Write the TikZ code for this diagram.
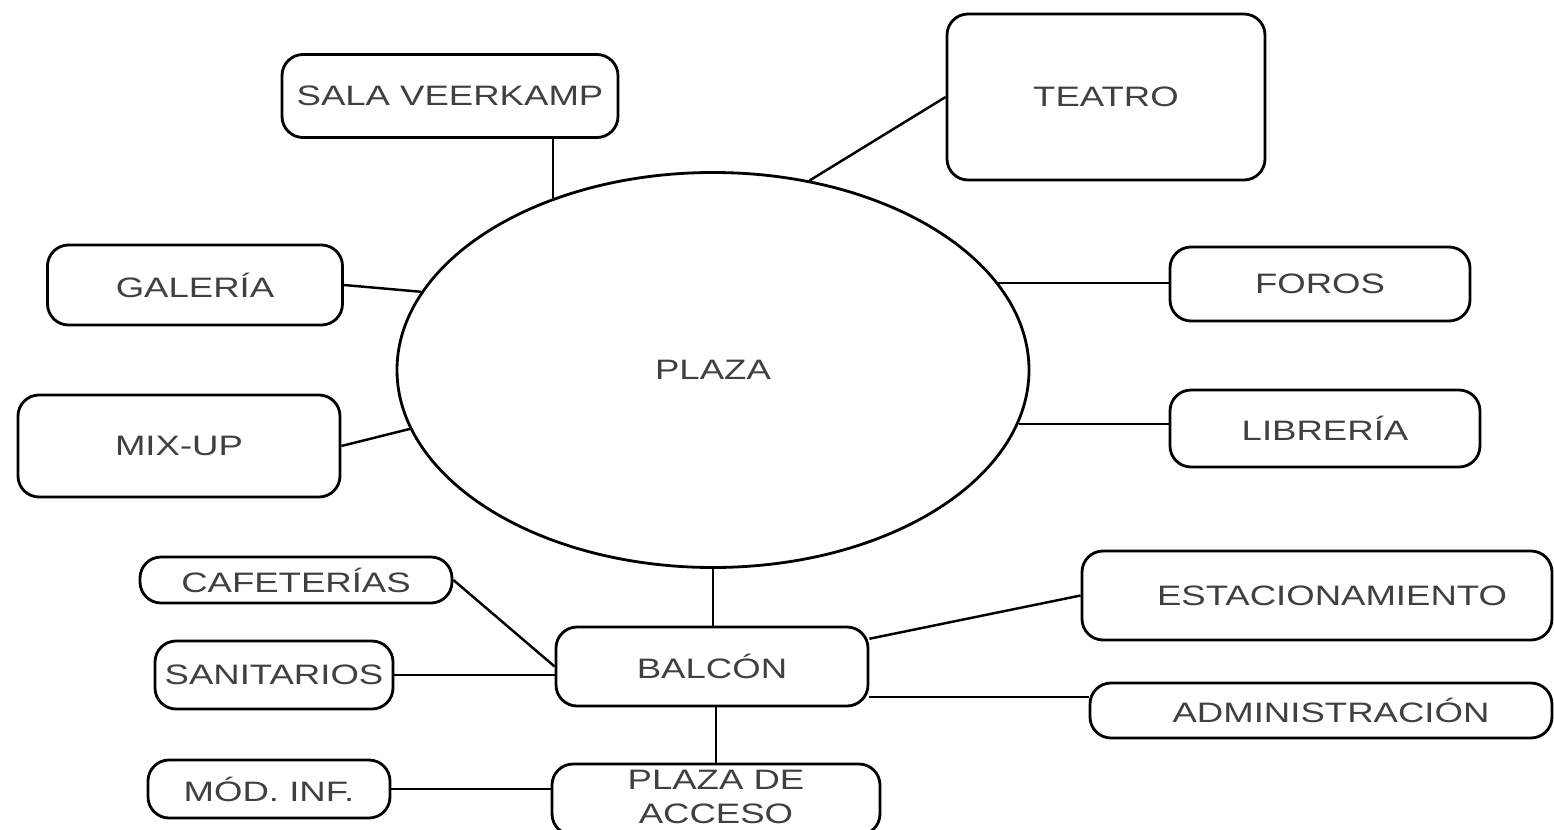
\documentclass[tikz,border=0pt]{standalone}
\usepackage{fontspec}
\setmainfont{Liberation Sans}[FakeStretch=1.3]
\usetikzlibrary{shapes.geometric}
\begin{document}
\begin{tikzpicture}[
	caja/.style={draw, line width=1.6pt, rounded corners=12pt, inner sep=0pt,
		text=black!75, font=\fontsize{16}{21}\selectfont, align=center},
	liga/.style={line width=1.4pt}]
	\clip (0,0) rectangle (31.08,-16.6);
	% centro
	\node[draw, ellipse, line width=1.6pt, minimum width=12.64cm, minimum height=7.9cm,
		text=black!75, font=\fontsize{16}{21}\selectfont] (plaza) at (14.26,-7.4) {PLAZA};
	% alrededor de la plaza
	\node[caja, minimum width=6.72cm, minimum height=1.66cm] (sala) at (9.0,-1.92) {SALA VEERKAMP};
	\node[caja, minimum width=6.36cm, minimum height=3.32cm] (teatro) at (22.12,-1.94) {TEATRO};
	\node[caja, minimum width=5.9cm, minimum height=1.6cm] (galeria) at (3.9,-5.7) {GALERÍA};
	\node[caja, minimum width=6.44cm, minimum height=2.04cm] (mixup) at (3.58,-8.92) {MIX-UP};
	\node[caja, minimum width=6cm, minimum height=1.48cm] (foros) at (26.4,-5.68) {FOROS};
	\node[caja, minimum width=6.2cm, minimum height=1.54cm] (libreria) at (26.5,-8.57) {LIBRERÍA};
	% balcon
	\node[caja, minimum width=6.24cm, minimum height=1.58cm] (balcon) at (14.24,-13.33) {BALCÓN};
	\node[caja, minimum width=6.24cm, minimum height=0.92cm] (cafe) at (5.92,-11.6) {CAFETERÍAS};
	\node[caja, minimum width=4.76cm, minimum height=1.36cm] (sanit) at (5.48,-13.5) {SANITARIOS};
	\node[caja, minimum width=9.4cm, minimum height=1.78cm] (estac) at (26.34,-11.91) {\hspace*{0.6cm}ESTACIONAMIENTO};
	\node[caja, minimum width=9.24cm, minimum height=1.1cm] (admin) at (26.42,-14.21) {\hspace*{0.4cm}ADMINISTRACIÓN};
	% acceso
	\node[caja, minimum width=6.56cm, minimum height=1.42cm, text depth=0.12cm,
		font=\fontsize{16}{19.5}\selectfont] (acceso) at (14.32,-15.99) {PLAZA DE\\ACCESO};
	\node[caja, minimum width=4.84cm, minimum height=1.16cm] (modinf) at (5.38,-15.78) {MÓD. INF.};

	\draw[liga] (plaza.133) -- (plaza.133 |- sala.south);
	\draw[liga] (plaza.63) -- (teatro.west);
	\draw[liga] (plaza.165) -- (galeria.east);
	\draw[liga] (plaza.191) -- (mixup.east);
	\draw[liga] (plaza.17) -- (plaza.17 -| foros.west);
	\draw[liga] (plaza.-10) -- (plaza.-10 -| libreria.west);
	\draw[liga] (plaza.south) -- (plaza.south |- balcon.north);
	\draw[liga] (cafe.east) -- (balcon.west);
	\draw[liga] (sanit.east) -- (sanit.east -| balcon.west);
	\draw[liga] (balcon.10) -- (estac.west);
	\draw[liga] (balcon.-11) -- (balcon.-11 -| admin.west);
	\draw[liga] (acceso.north) -- (acceso.north |- balcon.south);
	\draw[liga] (modinf.east) -- (modinf.east -| acceso.west);
\end{tikzpicture}
\end{document}
